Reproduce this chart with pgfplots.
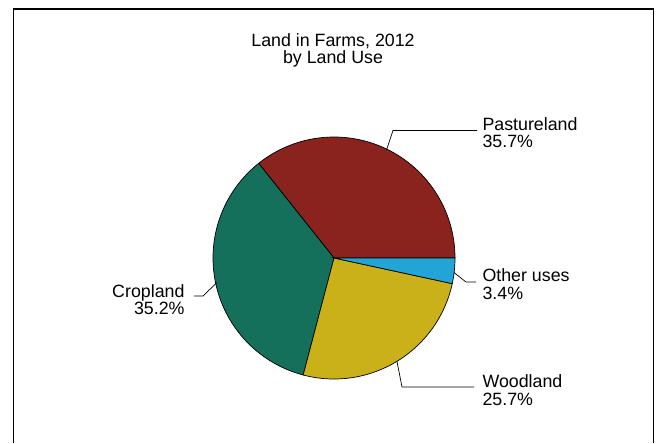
\documentclass[border=0pt]{standalone}
\usepackage{pgfplots}
\pgfplotsset{compat=1.18}
\usepackage{pgfplotstable}
\usepackage{fontspec}
\setmainfont{Liberation Sans}

\definecolor{pasture}{HTML}{8A221D}
\definecolor{crop}{HTML}{14705B}
\definecolor{wood}{HTML}{CBB119}
\definecolor{other}{HTML}{22A5D6}

% shares of land in farms, percent
\pgfplotstableread[col sep=comma]{
use,share
Pastureland,35.7
Cropland,35.2
Woodland,25.7
Other uses,3.4
}\landuse

% cumulative angles, counter-clockwise from 3 o'clock
\pgfplotstablegetelem{0}{share}\of\landuse
\pgfmathsetmacro\aA{3.6*\pgfplotsretval}
\pgfplotstablegetelem{1}{share}\of\landuse
\pgfmathsetmacro\aB{\aA+3.6*\pgfplotsretval}
\pgfplotstablegetelem{2}{share}\of\landuse
\pgfmathsetmacro\aC{\aB+3.6*\pgfplotsretval}
\pgfplotstablegetelem{3}{share}\of\landuse
\pgfmathsetmacro\aD{\aC+3.6*\pgfplotsretval}

\newcommand\lab{\fontsize{17.8bp}{18bp}\selectfont}
\def\cx{334}
\def\cy{258}
\def\rr{121}

\newcommand\sector[3]{%
  \addplot[fill=#3, draw=black, line width=0.7bp, domain=#1:#2, samples=120, variable=\t]
    ({\cx+\rr*cos(\t)}, {\cy-\rr*sin(\t)}) -- (axis cs:\cx,\cy) -- cycle;}

\begin{document}
\begin{tikzpicture}
\begin{axis}[
    hide axis,
    scale only axis,
    width=658bp, height=443bp,
    xmin=0, xmax=658, ymin=0, ymax=443,
    y dir=reverse,
    clip=false,
]
% page area and frame
\addplot[draw=none] coordinates {(0,0) (658,443)};
\addplot[black, line width=1.2bp] coordinates {(13.5,443) (13.5,9) (653.5,9) (653.5,443)};

\sector{0}{\aA}{pasture}
\sector{\aA}{\aB}{crop}
\sector{\aB}{\aC}{wood}
\sector{\aC}{\aD}{other}

% leader lines
\addplot[black, line width=0.7bp] coordinates {(386.5,150) (393,130.5) (477,130.5)};
\addplot[black, line width=0.7bp] coordinates {(454,272.5) (466,282) (476,282)};
\addplot[black, line width=0.7bp] coordinates {(397,361.5) (402,387) (474,387)};
\addplot[black, line width=0.7bp] coordinates {(217,282.5) (203,296) (194,296)};

% title
\node[anchor=base, font=\lab] at (axis cs:333,46.7) {Land in Farms, 2012};
\node[anchor=base, font=\lab] at (axis cs:333,63.3) {by Land Use};

% labels
\node[anchor=base west, font=\lab] at (axis cs:479,130) {Pastureland};
\node[anchor=base west, font=\lab] at (axis cs:479,147.3) {35.7\%};
\node[anchor=base west, font=\lab] at (axis cs:479,281.7) {Other uses};
\node[anchor=base west, font=\lab] at (axis cs:479,299.3) {3.4\%};
\node[anchor=base west, font=\lab] at (axis cs:479,387.3) {Woodland};
\node[anchor=base west, font=\lab] at (axis cs:479,405) {25.7\%};
\node[anchor=base east, font=\lab] at (axis cs:188,297.3) {Cropland};
\node[anchor=base east, font=\lab] at (axis cs:188,314.3) {35.2\%};
\end{axis}
\end{tikzpicture}
\end{document}
